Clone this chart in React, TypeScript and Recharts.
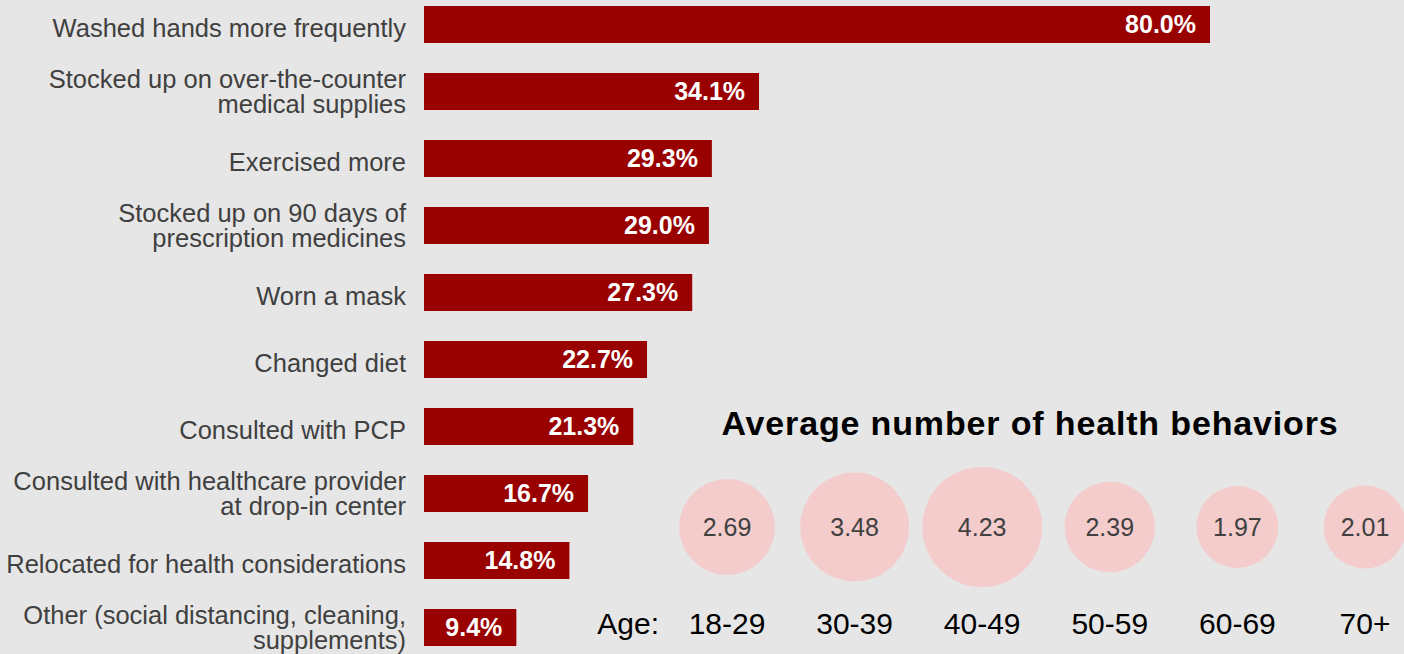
import React from 'react';
import { BarChart, Bar, XAxis, YAxis, LabelList, ScatterChart, Scatter, ZAxis } from 'recharts';

const behaviors = [
  'Washed hands more frequently',
  'Stocked up on over-the-counter\nmedical supplies',
  'Exercised more',
  'Stocked up on 90 days of\nprescription medicines',
  'Worn a mask',
  'Changed diet',
  'Consulted with PCP',
  'Consulted with healthcare provider\nat drop-in center',
  'Relocated for health considerations',
  'Other (social distancing, cleaning,\nsupplements)',
];
const shares = [80.0, 34.1, 29.3, 29.0, 27.3, 22.7, 21.3, 16.7, 14.8, 9.4];

const ageGroups = ['18-29', '30-39', '40-49', '50-59', '60-69', '70+'];
const avgBehaviors = [2.69, 3.48, 4.23, 2.39, 1.97, 2.01];

const chartTitle = 'Average number of health behaviors';
const ageCaption = 'Age:';

const FONT = '"Liberation Sans", Arial, Helvetica, sans-serif';

const barData = behaviors.map((name, i) => ({ name, value: shares[i] }));
const bubbleData = ageGroups.map((age, i) => ({ idx: i, y: 0.5, v: avgBehaviors[i], age }));

const CategoryTick = (props: any) => {
  const { x, y, payload } = props;
  const lines = String(payload.value).split('\n');
  const first = lines.length === 1 ? 12 : -3.5;
  return (
    <text x={x} y={y} textAnchor="end" fill="#404040" fontSize={25.5} fontFamily={FONT}>
      {lines.map((l, i) => (
        <tspan key={i} x={x} y={y + first + i * 25}>
          {l}
        </tspan>
      ))}
    </text>
  );
};

const AgeTick = (props: any) => {
  const { x, y, payload } = props;
  return (
    <text x={x} y={y + 7} textAnchor="middle" fill="#000" fontSize={30} fontFamily={FONT}>
      {ageGroups[payload.value]}
    </text>
  );
};

export default function App() {
  return (
    <div
      style={{
        position: 'absolute',
        left: 0,
        top: 0,
        width: 1404,
        height: 654,
        background: '#e6e6e6',
        overflow: 'hidden',
        fontFamily: FONT,
      }}
    >
      <div style={{ position: 'absolute', left: 0, top: -9 }}>
        <BarChart
          width={1404}
          height={680}
          data={barData}
          layout="vertical"
          margin={{ top: 0, right: 194, bottom: 10, left: 0 }}
        >
          <XAxis type="number" domain={[0, 80]} hide />
          <YAxis
            type="category"
            dataKey="name"
            width={424}
            axisLine={false}
            tickLine={false}
            tickSize={0}
            tickMargin={18}
            interval={0}
            tick={<CategoryTick />}
          />
          <Bar dataKey="value" fill="#990000" barSize={37} isAnimationActive={false}>
            <LabelList
              dataKey="value"
              position="insideRight"
              offset={14}
              fill="#ffffff"
              fontSize={25}
              fontWeight="bold"
              fontFamily={FONT}
              formatter={(v: any) => `${Number(v).toFixed(1)}%`}
            />
          </Bar>
        </BarChart>
      </div>
      <div style={{ position: 'absolute', left: 0, top: 0, pointerEvents: 'none' }}>
        <ScatterChart width={1404} height={654} margin={{ top: 427, right: 39, bottom: 0, left: 727 }}>
          <XAxis
            type="number"
            dataKey="idx"
            domain={[0, 5]}
            ticks={[0, 1, 2, 3, 4, 5]}
            height={27}
            axisLine={false}
            tickLine={false}
            tickSize={0}
            tickMargin={0}
            interval={0}
            tick={<AgeTick />}
          />
          <YAxis type="number" dataKey="y" domain={[0, 1]} hide />
          <ZAxis type="number" dataKey="v" domain={[0, 5]} range={[0, 13385]} />
          <Scatter data={bubbleData} fill="#f4cccc" isAnimationActive={false}>
            <LabelList dataKey="v" position="center" fill="#404040" fontSize={25} fontFamily={FONT} />
          </Scatter>
          <text x={1030} y={435} textAnchor="middle" fill="#000" fontSize={34} fontWeight="bold" fontFamily={FONT} letterSpacing={0.85}>
            {chartTitle}
          </text>
          <text x={659} y={634} textAnchor="end" fill="#000" fontSize={30} fontFamily={FONT}>
            {ageCaption}
          </text>
        </ScatterChart>
      </div>
    </div>
  );
}
